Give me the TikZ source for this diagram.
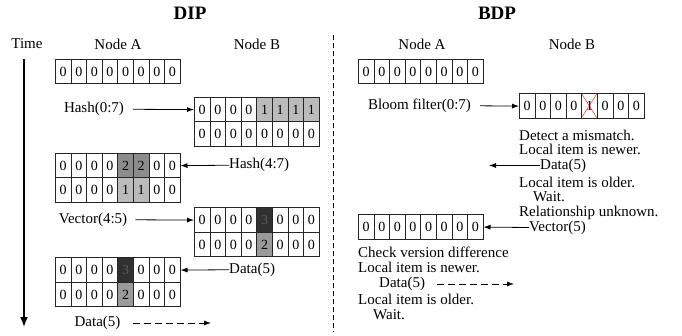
\documentclass[tikz,border=0pt]{standalone}
\usepackage{fontspec}
\setmainfont{Liberation Serif}
\usetikzlibrary{arrows.meta}

\definecolor{lgray}{HTML}{BBBBBB}
\definecolor{mgray}{HTML}{8C8C8C}
\definecolor{pgray}{HTML}{9A9A9A}
\definecolor{dgray}{HTML}{303030}
\definecolor{tgray}{HTML}{5A5A5A}

\tikzset{
  cell/.style={draw=black!85, line width=0.7pt, minimum width=15.6pt, minimum height=24.5pt,
    inner sep=0pt, anchor=north west, font=\fontsize{14}{14}\selectfont},
  lbl/.style={inner sep=0pt, font=\fontsize{15}{15}\selectfont},
  ttl/.style={inner sep=1pt, font=\fontsize{19}{19}\selectfont\bfseries},
  arr/.style={-{Latex[length=7pt,width=5pt]}, line width=0.8pt},
  darr/.style={arr, dash pattern=on 7pt off 4pt}
}

% one row of 8 cells: name, x, y, value/fill list
\newcommand{\cellrow}[4]{%
  \foreach \v/\f [count=\i from 0] in {#4}
    \node[cell, fill=\f] (#1-\i) at ({#2+\i*15.6},#3) {\v};%
}

\begin{document}
\begin{tikzpicture}[x=1pt,y=-1pt]
\useasboundingbox (0,0) rectangle (682,336);

%titles
\node[ttl] (DIP) at (190,13) {DIP};
\node[ttl] (BDP) at (497,13) {BDP};

%time axis
\node[lbl] (Time) at (27,44) {Time};
\coordinate (T0) at (24,59);
\coordinate (T1) at (24,327);
\draw[line width=1.6pt,-{Latex[length=10pt,width=8pt]}] (T0)--(T1);

%divider
\coordinate (S0) at (333,35);
\coordinate (S1) at (333,332);
\draw[line width=0.6pt,dash pattern=on 5pt off 3pt] (S0)--(S1);

%----- DIP -----
\node[lbl] (NA) at (118,44) {Node A};
\node[lbl] (NB) at (257,44) {Node B};

\cellrow{A1}{55}{59}{0/white,0/white,0/white,0/white,0/white,0/white,0/white,0/white}

\cellrow{B1}{194}{97}{0/white,0/white,0/white,0/white,1/lgray,1/lgray,1/lgray,1/lgray}
\cellrow{B1r}{194}{121.5}{0/white,0/white,0/white,0/white,0/white,0/white,0/white,0/white}
\node[lbl] (H07) at (94,109.25) {Hash(0:7)};
\draw[arr,shorten <=9pt] (H07.east)--(B1-0.west);

\cellrow{A2}{55}{153}{0/white,0/white,0/white,0/white,2/mgray,2/mgray,0/white,0/white}
\cellrow{A2r}{55}{177.5}{0/white,0/white,0/white,0/white,1/lgray,1/lgray,0/white,0/white}
\node[lbl,anchor=west] (H47) at (229,165.25) {Hash(4:7)};
\draw[arr] (H47.west)--(A2-7.east);

\cellrow{B2}{194}{207.5}{0/white,0/white,0/white,0/white,{\color{tgray}3}/dgray,0/white,0/white,0/white}
\cellrow{B2r}{194}{232}{0/white,0/white,0/white,0/white,2/pgray,0/white,0/white,0/white}
\node[lbl] (V45) at (93,219.75) {Vector(4:5)};
\draw[arr,shorten <=8pt] (V45.east)--(B2-0.west);

\cellrow{A3}{55}{257.5}{0/white,0/white,0/white,0/white,{\color{tgray}3}/dgray,0/white,0/white,0/white}
\cellrow{A3r}{55}{282}{0/white,0/white,0/white,0/white,2/pgray,0/white,0/white,0/white}
\node[lbl,anchor=west] (D5a) at (229,269.75) {Data(5)};
\draw[arr] (D5a.west)--(A3-7.east);

\node[lbl] (D5b) at (97.5,323) {Data(5)};
\coordinate (E5b) at (211,323);
\draw[darr,shorten <=12pt] (D5b.east)--(E5b);

%----- BDP -----
\node[lbl] (NA2) at (422,44) {Node A};
\node[lbl] (NB2) at (572,44) {Node B};

\cellrow{C1}{358}{59}{0/white,0/white,0/white,0/white,0/white,0/white,0/white,0/white}

\draw[red!80,line width=0.5pt] (519+4*15.6,93.5)--++(15.6,24.5);
\draw[red!80,line width=0.5pt] (519+4*15.6,118)--++(15.6,-24.5);
\cellrow{D1}{519}{93.5}{0/white,0/white,0/white,0/white,1/none,0/white,0/white,0/white}
\node[lbl] (BF) at (419.5,105.75) {Bloom filter(0:7)};
\draw[arr,shorten <=9pt] (BF.east)--(D1-0.west);

\node[lbl,anchor=west] (L1) at (519,135) {Detect a mismatch.};
\node[lbl,anchor=west] (L2) at (519,149.5) {Local item is newer.};
\node[lbl,anchor=west] (D5c) at (540,165.5) {Data(5)};
\coordinate (E5c) at (489,165.5);
\draw[arr] (D5c.west)--(E5c);
\node[lbl,anchor=west] (L3) at (519,182) {Local item is older.};
\node[lbl,anchor=west] (L4) at (533,197) {Wait.};
\node[lbl,anchor=west] (L5) at (519,213) {Relationship unknown.};

\cellrow{C2}{358}{214.5}{0/white,0/white,0/white,0/white,0/white,0/white,0/white,0/white}
\node[lbl,anchor=west] (V5) at (529,227.5) {Vector(5)};
\draw[arr] (V5.west)--(C2-7.east);

\node[lbl,anchor=west] (L6) at (358,252) {Check version difference};
\node[lbl,anchor=west] (L7) at (358,267) {Local item is newer.};
\node[lbl,anchor=west] (D5d) at (379,284) {Data(5)};
\coordinate (E5d) at (514,284);
\draw[darr,shorten <=12pt] (D5d.east)--(E5d);
\node[lbl,anchor=west] (L8) at (358,299) {Local item is older.};
\node[lbl,anchor=west] (L9) at (373,315) {Wait.};
\end{tikzpicture}
\end{document}
